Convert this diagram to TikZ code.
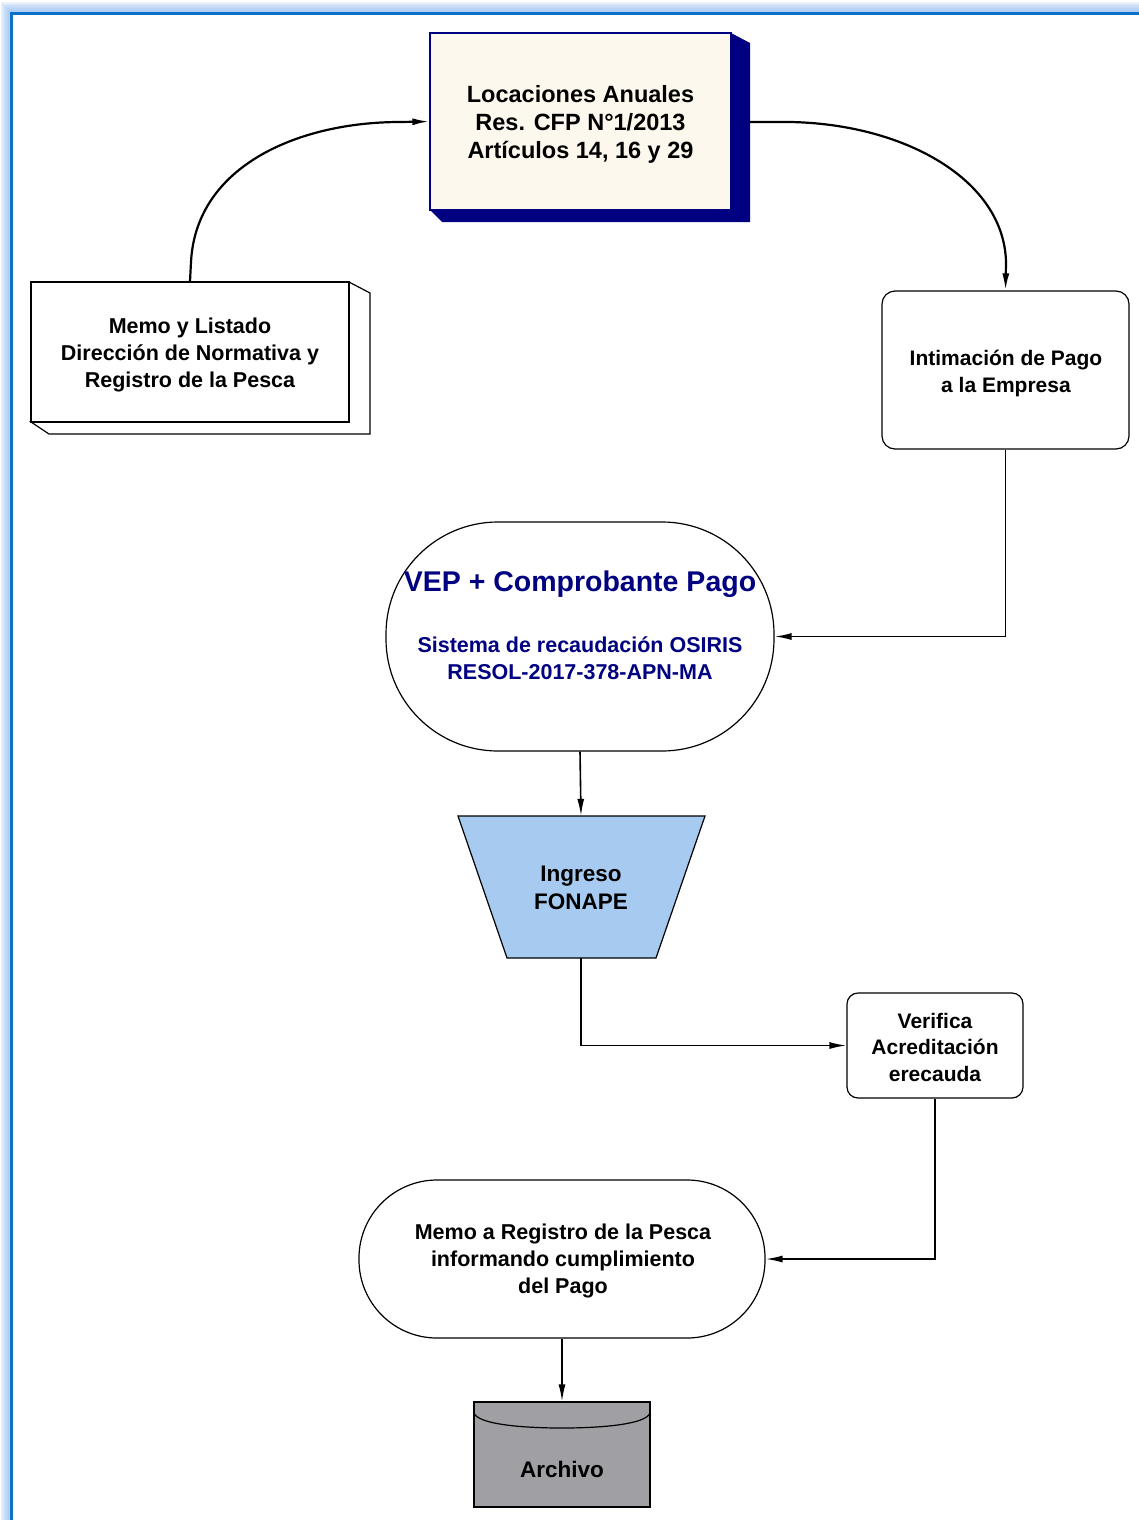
\documentclass[tikz,border=0pt]{standalone}
\usepackage{fontspec}
\setmainfont{Liberation Sans}[BoldFont={Liberation Sans Bold}]
\usetikzlibrary{arrows.meta,calc}
\definecolor{navyc}{RGB}{0,0,128}
\definecolor{creamc}{RGB}{253,248,238}
\definecolor{trapblue}{RGB}{166,202,240}
\definecolor{archgray}{RGB}{160,160,164}
\definecolor{frameblue}{RGB}{10,112,200}
\definecolor{glowblue}{RGB}{150,190,240}
\tikzset{
  box/.style={draw=black, line width=1.2pt, inner sep=0pt},
  txt/.style={font=\fontsize{22}{27}\selectfont\bfseries, align=center, inner sep=0pt},
  conn/.style={draw=black, line width=1.6pt, -{Latex[length=17pt,width=7pt]}},
  curveconn/.style={draw=black, line width=2.2pt, -{Latex[length=17pt,width=7pt]}}
}
\begin{document}
\begin{tikzpicture}[x=1pt,y=-1pt]
\useasboundingbox (0,0) rectangle (1139,1520);
% frame glow
\foreach \w in {22,19,16,13,10,7} {
  \draw[glowblue, line width=\w pt, opacity=0.2] (11.5,1540) -- (11.5,13.5) -- (1160,13.5);
}
\fill[white] (12,14) rectangle (1139,1520);
\draw[frameblue, line width=3pt] (11.5,1540) -- (11.5,13.5) -- (1160,13.5);

% top box
\fill[navyc] (731,33) -- (750,43) -- (750,222) -- (442,222) -- (430,210) -- (731,210) -- cycle;
\node[box, draw=navyc, fill=creamc, minimum width=301pt, minimum height=177pt] (top) at (580.5,121.5) {};
\node[txt, font=\fontsize{23.5}{28}\selectfont\bfseries] (toptxt) at (580.5,124) {Locaciones Anuales\\Res. CFP N°1/2013\\Artículos 14, 16 y 29};
\coordinate (topr) at (750,122);

% memo box (3D)
\draw[black, line width=1.2pt, fill=white] (349,282) -- (370,293) -- (370,434) -- (49,434) -- (31,422) -- (349,422) -- cycle;
\node[box, fill=white, minimum width=318pt, minimum height=140pt] (memo1) at (190,352) {};
\node[txt, font=\fontsize{21.5}{27}\selectfont\bfseries] (memo1txt) at (190,355) {Memo y Listado\\Dirección de Normativa y\\Registro de la Pesca};

% intimacion
\node[box, rounded corners=13pt, fill=white, minimum width=247pt, minimum height=158pt] (intim) at (1005.5,370) {};
\node[txt, font=\fontsize{21}{27}\selectfont\bfseries] (intimtxt) at (1006,373) {Intimación de Pago\\a la Empresa};

% VEP
\node[box, rounded corners=112pt, fill=white, minimum width=388pt, minimum height=229pt] (vep) at (580,636.5) {};
\node[txt, text=navyc, font=\fontsize{28.5}{34}\selectfont\bfseries] (veptitle) at (580,584) {VEP + Comprobante Pago};
\node[txt, text=navyc, font=\fontsize{21.5}{27}\selectfont\bfseries] (vepsub) at (580,658) {Sistema de recaudación OSIRIS\\RESOL-2017-378-APN-MA};

% trapezoid
\draw[black, line width=1.2pt, fill=trapblue] (458,816) -- (705,816) -- (656,958) -- (507,958) -- cycle;
\node[inner sep=0pt, minimum width=247pt, minimum height=142pt] (trap) at (581,887) {};
\node[txt, font=\fontsize{22.5}{28}\selectfont\bfseries] (traptxt) at (581,888) {Ingreso\\FONAPE};

% verifica
\node[box, rounded corners=11pt, fill=white, minimum width=176pt, minimum height=105pt] (verif) at (935,1045.5) {};
\node[txt, font=\fontsize{21}{26.5}\selectfont\bfseries] (veriftxt) at (935,1047) {Verifica\\Acreditación\\erecauda};

% memo 2
\node[box, rounded corners=78pt, fill=white, minimum width=406pt, minimum height=158pt] (memo2) at (562,1259) {};
\node[txt, font=\fontsize{21.5}{27}\selectfont\bfseries] (memo2txt) at (563,1261) {Memo a Registro de la Pesca\\informando cumplimiento\\del Pago};

% archivo
\node[box, fill=archgray, minimum width=176pt, minimum height=105pt] (arch) at (562,1454.5) {};
\draw[black, line width=1.2pt] (474,1413) .. controls (478,1424) and (520,1428) .. (562,1428) .. controls (604,1428) and (646,1424) .. (650,1413);
\node[txt, font=\fontsize{22.5}{28}\selectfont\bfseries] (archtxt) at (562,1469) {Archivo};

% connectors
\draw[curveconn] (memo1.north) -- (191,262) .. controls (196,165) and (300,122) .. (400,122) -- (top.west);
\draw[curveconn] (topr) -- (790,122) .. controls (905,124) and (1004,180) .. (1006,262) -- (intim.north);
\draw[conn] (intim.south) |- (vep.east);
\draw[conn] (vep.south) -- (trap.north);
\draw[conn] (trap.south) |- (verif.west);
\draw[conn] (verif.south) |- (memo2.east);
\draw[conn] (memo2.south) -- (arch.north);
\end{tikzpicture}
\end{document}
